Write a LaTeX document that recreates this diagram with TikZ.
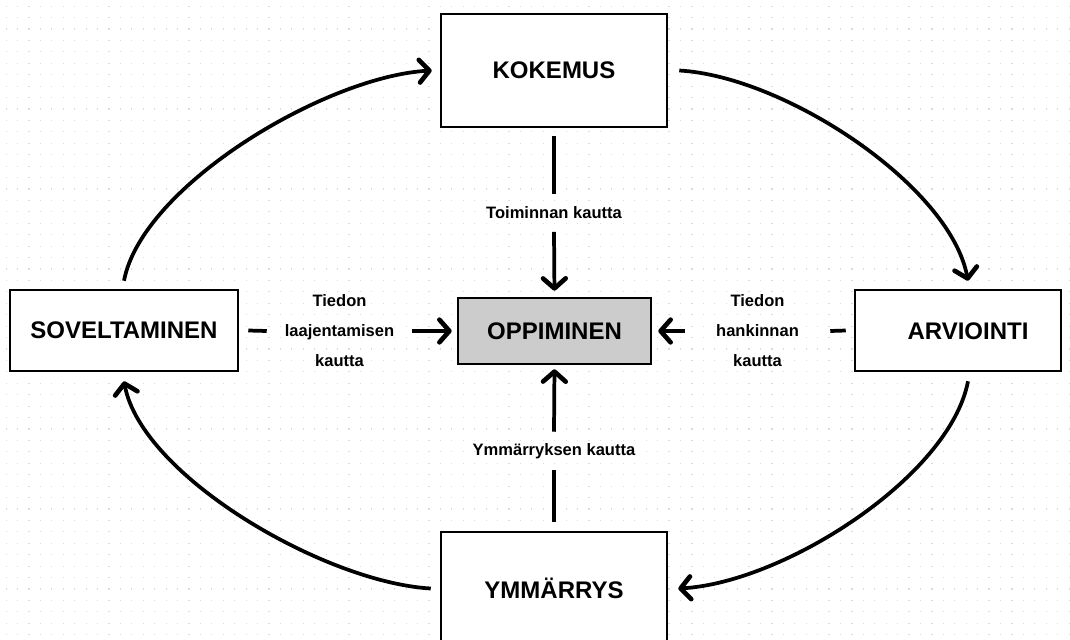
\documentclass[tikz,border=0pt]{standalone}
\usepackage{fontspec}
\setmainfont{Liberation Sans}
\usetikzlibrary{arrows.meta}
\definecolor{oppgray}{HTML}{CCCCCC}
\definecolor{dotgray}{HTML}{DCDCDC}
\begin{document}
\begin{tikzpicture}[x=0.75pt,y=-0.75pt,
  box/.style={draw=black, line width=1.9pt, fill=white, inner sep=0pt, font=\fontsize{18}{22}\selectfont\bfseries},
  boxtext/.style={inner sep=0pt, font=\fontsize{18}{22}\selectfont\bfseries},
  lbl/.style={inner sep=0pt, align=center, font=\fontsize{12.4}{22.5}\selectfont\bfseries},
  conn/.style={line width=2.8pt},
  arr/.style={conn, -{Straight Barb[length=7.5pt,width=17pt,line width=0pt 1.25,round]}},
]
\useasboundingbox (0,0) rectangle (1070,639);
\clip (0,0) rectangle (1070,639);
\fill[white] (0,0) rectangle (1070,639);
\foreach \i in {0,...,93} {
  \foreach \j in {0,...,55} {
    \fill[dotgray] ({5.5+11.43*\i},{5.5+11.43*\j}) rectangle ++(1.2,1.2);
  }
}
% boxes
\node[box, minimum width=169.5pt, minimum height=84.75pt] (kok) at (554,70.5) {KOKEMUS};
\node[box, minimum width=169.5pt, minimum height=84.75pt] (ymm) at (554,588.5) {YMMÄRRYS};
\node[box, minimum width=171pt, minimum height=60.75pt] (sov) at (124,330.5) {SOVELTAMINEN};
\node[box, minimum width=154.5pt, minimum height=60.75pt] (arvbox) at (958,330.5) {};
\node[boxtext] (arv) at (968,331) {ARVIOINTI};
\node[box, fill=oppgray, minimum width=144.75pt, minimum height=49.5pt] (opp) at (554.5,331) {OPPIMINEN};
% labels
\node[lbl, minimum height=27.75pt] (toim) at (554,213) {Toiminnan kautta};
\node[lbl, minimum height=28.5pt] (ymmk) at (554,451) {Ymmärryksen kautta};
\node[lbl, minimum width=108.75pt] (tlaaj) at (339.5,331) {Tiedon\\laajentamisen\\kautta};
\node[lbl, minimum width=108.75pt] (thank) at (757.5,331) {Tiedon\\hankinnan\\kautta};
% straight connectors
\draw[conn] ([yshift=-6pt]kok.south) -- (toim.north);
\draw[arr, shorten >=4.5pt] (toim.south) -- (opp.north);
\draw[conn] ([yshift=6.75pt]ymm.north) -- (ymmk.south);
\draw[arr, shorten >=3pt] (ymmk.north) -- (opp.south);
\draw[conn] ([xshift=6.75pt]sov.east) -- (tlaaj.west);
\draw[arr, shorten >=3.75pt] (tlaaj.east) -- (opp.west);
\draw[conn] ([xshift=-6pt]arvbox.west) -- (thank.east);
\draw[arr, shorten >=4.5pt] (thank.west) -- (opp.east);
% curved cycle
\draw[arr] ([yshift=6pt]sov.north) .. controls +(18,-95) and +(-106,6) .. ([xshift=-6pt]kok.west);
\draw[arr] ([xshift=8.25pt]kok.east) .. controls +(106,6) and +(-18,-95) .. ([xshift=7.5pt,yshift=6pt]arvbox.north);
\draw[arr] ([xshift=7.5pt,yshift=-6.75pt]arvbox.south) .. controls +(-18,95) and +(106,-6) .. ([xshift=7.5pt]ymm.east);
\draw[arr] ([xshift=-6.75pt]ymm.west) .. controls +(-106,-6) and +(18,95) .. ([yshift=-6.75pt]sov.south);
\end{tikzpicture}
\end{document}
